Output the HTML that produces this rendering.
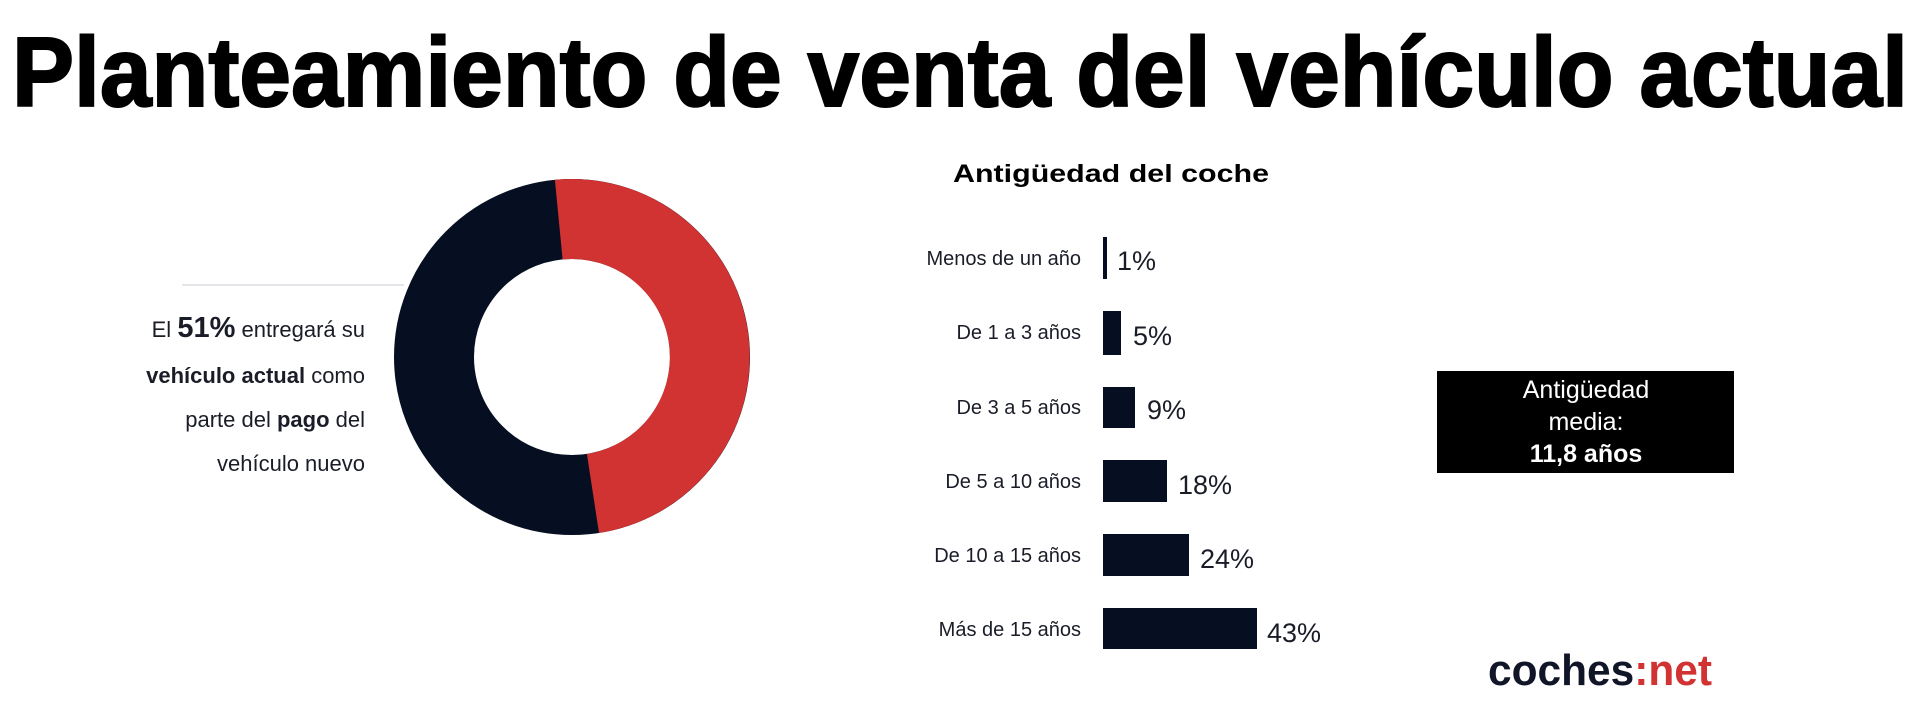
<!DOCTYPE html>
<html><head><meta charset="utf-8"><style>
html,body{margin:0;padding:0;background:#fff;width:1920px;height:720px;overflow:hidden}
svg{display:block}
text{font-family:"Liberation Sans",sans-serif}
</style></head><body>
<svg width="1920" height="720" viewBox="0 0 1920 720" xmlns="http://www.w3.org/2000/svg">
<text x="12" y="106" font-size="98" font-weight="bold" fill="#000" stroke="#000" stroke-width="2" textLength="1896" lengthAdjust="spacingAndGlyphs">Planteamiento de venta del vehículo actual</text>

<line x1="182" y1="285" x2="404" y2="285" stroke="#e4e6ea" stroke-width="2"/>
<g fill="#1a1d28" font-size="22" text-anchor="end">
<text x="365" y="337">El <tspan font-weight="bold" font-size="29">51%</tspan> entregará su</text>
<text x="365" y="383"><tspan font-weight="bold">vehículo actual</tspan> como</text>
<text x="365" y="427">parte del <tspan font-weight="bold">pago</tspan> del</text>
<text x="365" y="471">vehículo nuevo</text>
</g>

<g transform="translate(572,357)">
<circle r="138" fill="none" stroke="#060f22" stroke-width="80"/>
<path d="M -17.1 -177.2 A 178 178 0 0 1 27.0 175.9 L 14.9 96.9 A 98 98 0 0 0 -9.4 -97.5 Z" fill="#d13232"/>
</g>

<text x="953" y="182" font-size="25" font-weight="bold" fill="#000" textLength="316" lengthAdjust="spacingAndGlyphs">Antigüedad del coche</text>

<g fill="#060f22">
<rect x="1103" y="237" width="4" height="42"/>
<rect x="1103" y="311" width="18" height="44"/>
<rect x="1103" y="387" width="32" height="41"/>
<rect x="1103" y="460" width="64" height="42"/>
<rect x="1103" y="534" width="86" height="42"/>
<rect x="1103" y="608" width="154" height="41"/>
</g>
<g fill="#1a1d28" font-size="20" text-anchor="end">
<text x="1081" y="265">Menos de un año</text>
<text x="1081" y="339">De 1 a 3 años</text>
<text x="1081" y="414">De 3 a 5 años</text>
<text x="1081" y="488">De 5 a 10 años</text>
<text x="1081" y="562">De 10 a 15 años</text>
<text x="1081" y="636">Más de 15 años</text>
</g>
<g fill="#1a1d28" font-size="27">
<text x="1117" y="270">1%</text>
<text x="1133" y="345">5%</text>
<text x="1147" y="419">9%</text>
<text x="1178" y="494">18%</text>
<text x="1200" y="568">24%</text>
<text x="1267" y="642">43%</text>
</g>

<rect x="1437" y="371" width="297" height="102" fill="#000"/>
<g fill="#fff" font-size="25" text-anchor="middle">
<text x="1586" y="398">Antigüedad</text>
<text x="1586" y="430">media:</text>
<text x="1586" y="462" font-weight="bold">11,8 años</text>
</g>

<text x="1488" y="685" font-size="44" font-weight="bold" textLength="224" lengthAdjust="spacingAndGlyphs"><tspan fill="#101528">coches</tspan><tspan fill="#d13232">:net</tspan></text>
</svg>
</body></html>
